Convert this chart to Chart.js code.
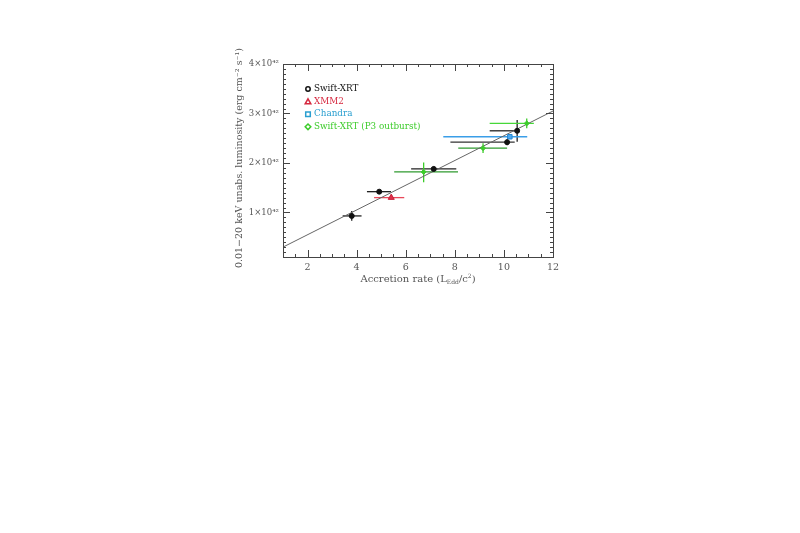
<!DOCTYPE html>
<html>
<head>
<meta charset="utf-8">
<script src="https://cdn.jsdelivr.net/npm/chart.js@4/dist/chart.umd.min.js"></script>
<style>
  html, body { margin: 0; padding: 0; background: #fff; }
  #wrap { width: 800px; height: 533px; position: relative; }
</style>
</head>
<body>
<div id="wrap"><canvas id="lumChart" width="800" height="533"></canvas></div>
<script>
// luminosity values in units of 1e42 erg/s
var swiftX     = [3.80, 4.92, 7.14, 10.13, 10.54];
var swiftY     = [0.93, 1.42, 1.88, 2.42, 2.65];
var swiftXLo   = [3.43, 4.42, 6.22, 7.82, 9.42];
var swiftXHi   = [4.20, 5.40, 8.06, 10.44, 10.58];
var swiftYLo   = [0.83, 1.38, 1.83, 2.36, 2.43];
var swiftYHi   = [1.03, 1.46, 1.93, 2.48, 2.87];

var xmmX = [5.41], xmmY = [1.30];
var xmmXLo = [4.71], xmmXHi = [5.94];
var xmmYLo = [1.27], xmmYHi = [1.33];

var chandraX = [10.24], chandraY = [2.53];
var chandraXLo = [7.53], chandraXHi = [10.95];
var chandraYLo = [2.50], chandraYHi = [2.56];

var p3X   = [6.73, 9.15, 10.93];
var p3Y   = [1.82, 2.30, 2.80];
var p3XLo = [5.53, 8.14, 9.42];
var p3XHi = [8.13, 10.13, 11.22];
var p3YLo = [1.61, 2.20, 2.70];
var p3YHi = [2.01, 2.40, 2.90];

var fitX = [1, 12];
var fitY = [0.30, 3.05];

var yTicks = [1, 2, 3, 4];
var yTickLabels = ['1\u00d710\u2074\u00b2', '2\u00d710\u2074\u00b2', '3\u00d710\u2074\u00b2', '4\u00d710\u2074\u00b2'];
var xTicks = [2, 4, 6, 8, 10, 12];

var legendNames  = ['Swift-XRT', 'XMM2', 'Chandra', 'Swift-XRT (P3 outburst)'];
var legendColors = ['#111111', '#d6283f', '#2a9fd0', '#3ccc2a'];
var legendShapes = ['circle', 'triangle', 'rect', 'rectRot'];

var FONT = '"DejaVu Serif", "Liberation Serif", serif';

function pts(xs, ys) {
  var out = [];
  for (var i = 0; i < xs.length; i++) out.push({x: xs[i], y: ys[i]});
  return out;
}

var errSets = [
  {x: swiftX, y: swiftY, xlo: swiftXLo, xhi: swiftXHi, ylo: swiftYLo, yhi: swiftYHi, hc: ['#222','#222','#222','#333','#222'], vc: '#222'},
  {x: xmmX, y: xmmY, xlo: xmmXLo, xhi: xmmXHi, ylo: xmmYLo, yhi: xmmYHi, hc: ['#e8485a'], vc: '#e8485a'},
  {x: chandraX, y: chandraY, xlo: chandraXLo, xhi: chandraXHi, ylo: chandraYLo, yhi: chandraYHi, hc: ['#3a9ee8'], vc: '#3a9ee8'},
  {x: p3X, y: p3Y, xlo: p3XLo, xhi: p3XHi, ylo: p3YLo, yhi: p3YHi, hc: ['#2f9a2f','#2f9a2f','#46d838'], vc: '#3ccc2a'}
];

var errorBars = {
  id: 'errorBars',
  beforeDatasetsDraw: function(chart) {
    var c = chart.ctx, xs = chart.scales.x, ys = chart.scales.y;
    c.save();
    c.lineWidth = 1.3;
    errSets.forEach(function(s) {
      for (var i = 0; i < s.x.length; i++) {
        var px = xs.getPixelForValue(s.x[i]), py = ys.getPixelForValue(s.y[i]);
        c.strokeStyle = s.hc[i];
        c.beginPath();
        c.moveTo(xs.getPixelForValue(s.xlo[i]), py);
        c.lineTo(xs.getPixelForValue(s.xhi[i]), py);
        c.stroke();
        c.strokeStyle = s.vc;
        c.beginPath();
        c.moveTo(px, ys.getPixelForValue(s.ylo[i]));
        c.lineTo(px, ys.getPixelForValue(s.yhi[i]));
        c.stroke();
      }
    });
    c.restore();
  }
};

var frame = {
  id: 'frame',
  afterDraw: function(chart) {
    var c = chart.ctx, a = chart.chartArea, xs = chart.scales.x, ys = chart.scales.y;
    c.save();
    c.strokeStyle = '#444';
    c.lineWidth = 1;
    c.strokeRect(a.left + 0.5, a.top + 0.5, a.right - a.left, a.bottom - a.top);
    // inward ticks on all four sides
    c.beginPath();
    for (var k = 2; k <= 24; k++) {
      var v = k / 2;
      var px = Math.round(xs.getPixelForValue(v)) + 0.5;
      var len = (k % 4 === 0) ? 7 : 3;
      c.moveTo(px, a.bottom); c.lineTo(px, a.bottom - len);
      c.moveTo(px, a.top); c.lineTo(px, a.top + len);
    }
    for (var j = 1; j <= 40; j++) {
      var py = Math.round(ys.getPixelForValue(j / 10)) + 0.5;
      var l2 = (j % 10 === 0) ? 7 : 3;
      c.moveTo(a.left, py); c.lineTo(a.left + l2, py);
      c.moveTo(a.right, py); c.lineTo(a.right - l2, py);
    }
    c.stroke();

    // axis titles
    c.fillStyle = '#555';
    c.textBaseline = 'alphabetic';
    var big = '10px ' + FONT, small = '6px ' + FONT;
    var tx = 418;
    var ty = 282;
    var p1 = 'Accretion rate (L', p2 = 'Edd', p3 = '/c', p4 = '2', p5 = ')';
    c.font = big;
    var w1 = c.measureText(p1).width, w3 = c.measureText(p3).width, w5 = c.measureText(p5).width;
    c.font = small;
    var w2 = c.measureText(p2).width, w4 = c.measureText(p4).width;
    var x0 = tx - (w1 + w2 + w3 + w4 + w5) / 2;
    c.textAlign = 'left';
    c.font = big;   c.fillText(p1, x0, ty);
    c.font = small; c.fillText(p2, x0 + w1, ty + 2);
    c.font = big;   c.fillText(p3, x0 + w1 + w2, ty);
    c.font = small; c.fillText(p4, x0 + w1 + w2 + w3, ty - 4);
    c.font = big;   c.fillText(p5, x0 + w1 + w2 + w3 + w4, ty);

    c.translate(242, 158);
    c.rotate(-Math.PI / 2);
    c.textAlign = 'center';
    c.font = '9.5px ' + FONT;
    c.fillText('0.01\u221220 keV unabs. luminosity (erg cm\u207b\u00b2 s\u207b\u00b9)', 0, 0);
    c.restore();

    // legend
    c.save();
    c.font = '8.8px ' + FONT;
    c.textBaseline = 'middle';
    c.textAlign = 'left';
    for (var r = 0; r < legendNames.length; r++) {
      var ly = 89 + r * 12.6;
      c.strokeStyle = legendColors[r];
      c.lineWidth = 1.5;
      c.beginPath();
      if (legendShapes[r] === 'circle') {
        c.arc(308, ly, 2.2, 0, Math.PI * 2);
      } else if (legendShapes[r] === 'triangle') {
        c.moveTo(308, ly - 2.8); c.lineTo(310.8, ly + 2.2); c.lineTo(305.2, ly + 2.2); c.closePath();
      } else if (legendShapes[r] === 'rect') {
        c.rect(305.7, ly - 2.3, 4.6, 4.6);
      } else {
        c.moveTo(308, ly - 2.8); c.lineTo(310.8, ly); c.lineTo(308, ly + 2.8); c.lineTo(305.2, ly); c.closePath();
      }
      c.stroke();
      c.fillStyle = legendColors[r];
      c.fillText(legendNames[r], 314, ly);
    }
    c.restore();
  }
};

var ctx = document.getElementById('lumChart');
var chart = new Chart(ctx, {
  type: 'scatter',
  data: {
    datasets: [
      {label: 'fit', type: 'line', data: pts(fitX, fitY), borderColor: '#666', borderWidth: 1, pointRadius: 0, fill: false, order: 5},
      {label: 'Swift-XRT', data: pts(swiftX, swiftY), pointStyle: 'circle', pointRadius: 2.5, backgroundColor: '#111', borderColor: '#111', borderWidth: 1},
      {label: 'XMM2', data: pts(xmmX, xmmY), pointStyle: 'triangle', pointRadius: 3.5, backgroundColor: '#e0304a', borderColor: '#c8203a', borderWidth: 1},
      {label: 'Chandra', data: pts(chandraX, chandraY), pointStyle: 'rect', pointRadius: 3.2, backgroundColor: '#4aa8f0', borderColor: '#2a88d0', borderWidth: 1},
      {label: 'Swift-XRT (P3 outburst)', data: pts(p3X, p3Y), pointStyle: 'rectRot', pointRadius: 2.5, backgroundColor: '#3ccc2a', borderColor: '#3ccc2a', borderWidth: 1}
    ]
  },
  options: {
    responsive: false,
    animation: false,
    layout: {padding: {left: 0, top: 64, right: 247, bottom: 0}},
    plugins: {legend: {display: false}, tooltip: {enabled: false}},
    scales: {
      x: {
        type: 'linear', min: 1, max: 12,
        grid: {display: false, drawTicks: false},
        border: {display: false},
        afterFit: function(s) { s.height = 276; },
        afterBuildTicks: function(s) { s.ticks = xTicks.map(function(v) { return {value: v}; }); },
        ticks: {color: '#555', padding: 5, font: {family: FONT, size: 9.5}, maxRotation: 0}
      },
      y: {
        type: 'linear', min: 0.1, max: 4,
        grid: {display: false, drawTicks: false},
        border: {display: false},
        afterFit: function(s) { s.width = 283; },
        afterBuildTicks: function(s) { s.ticks = yTicks.map(function(v) { return {value: v}; }); },
        ticks: {
          color: '#555', padding: 4, font: {family: FONT, size: 8.5},
          callback: function(v) { return yTickLabels[yTicks.indexOf(v)]; }
        }
      }
    }
  },
  plugins: [errorBars, frame]
});
</script>
</body>
</html>
